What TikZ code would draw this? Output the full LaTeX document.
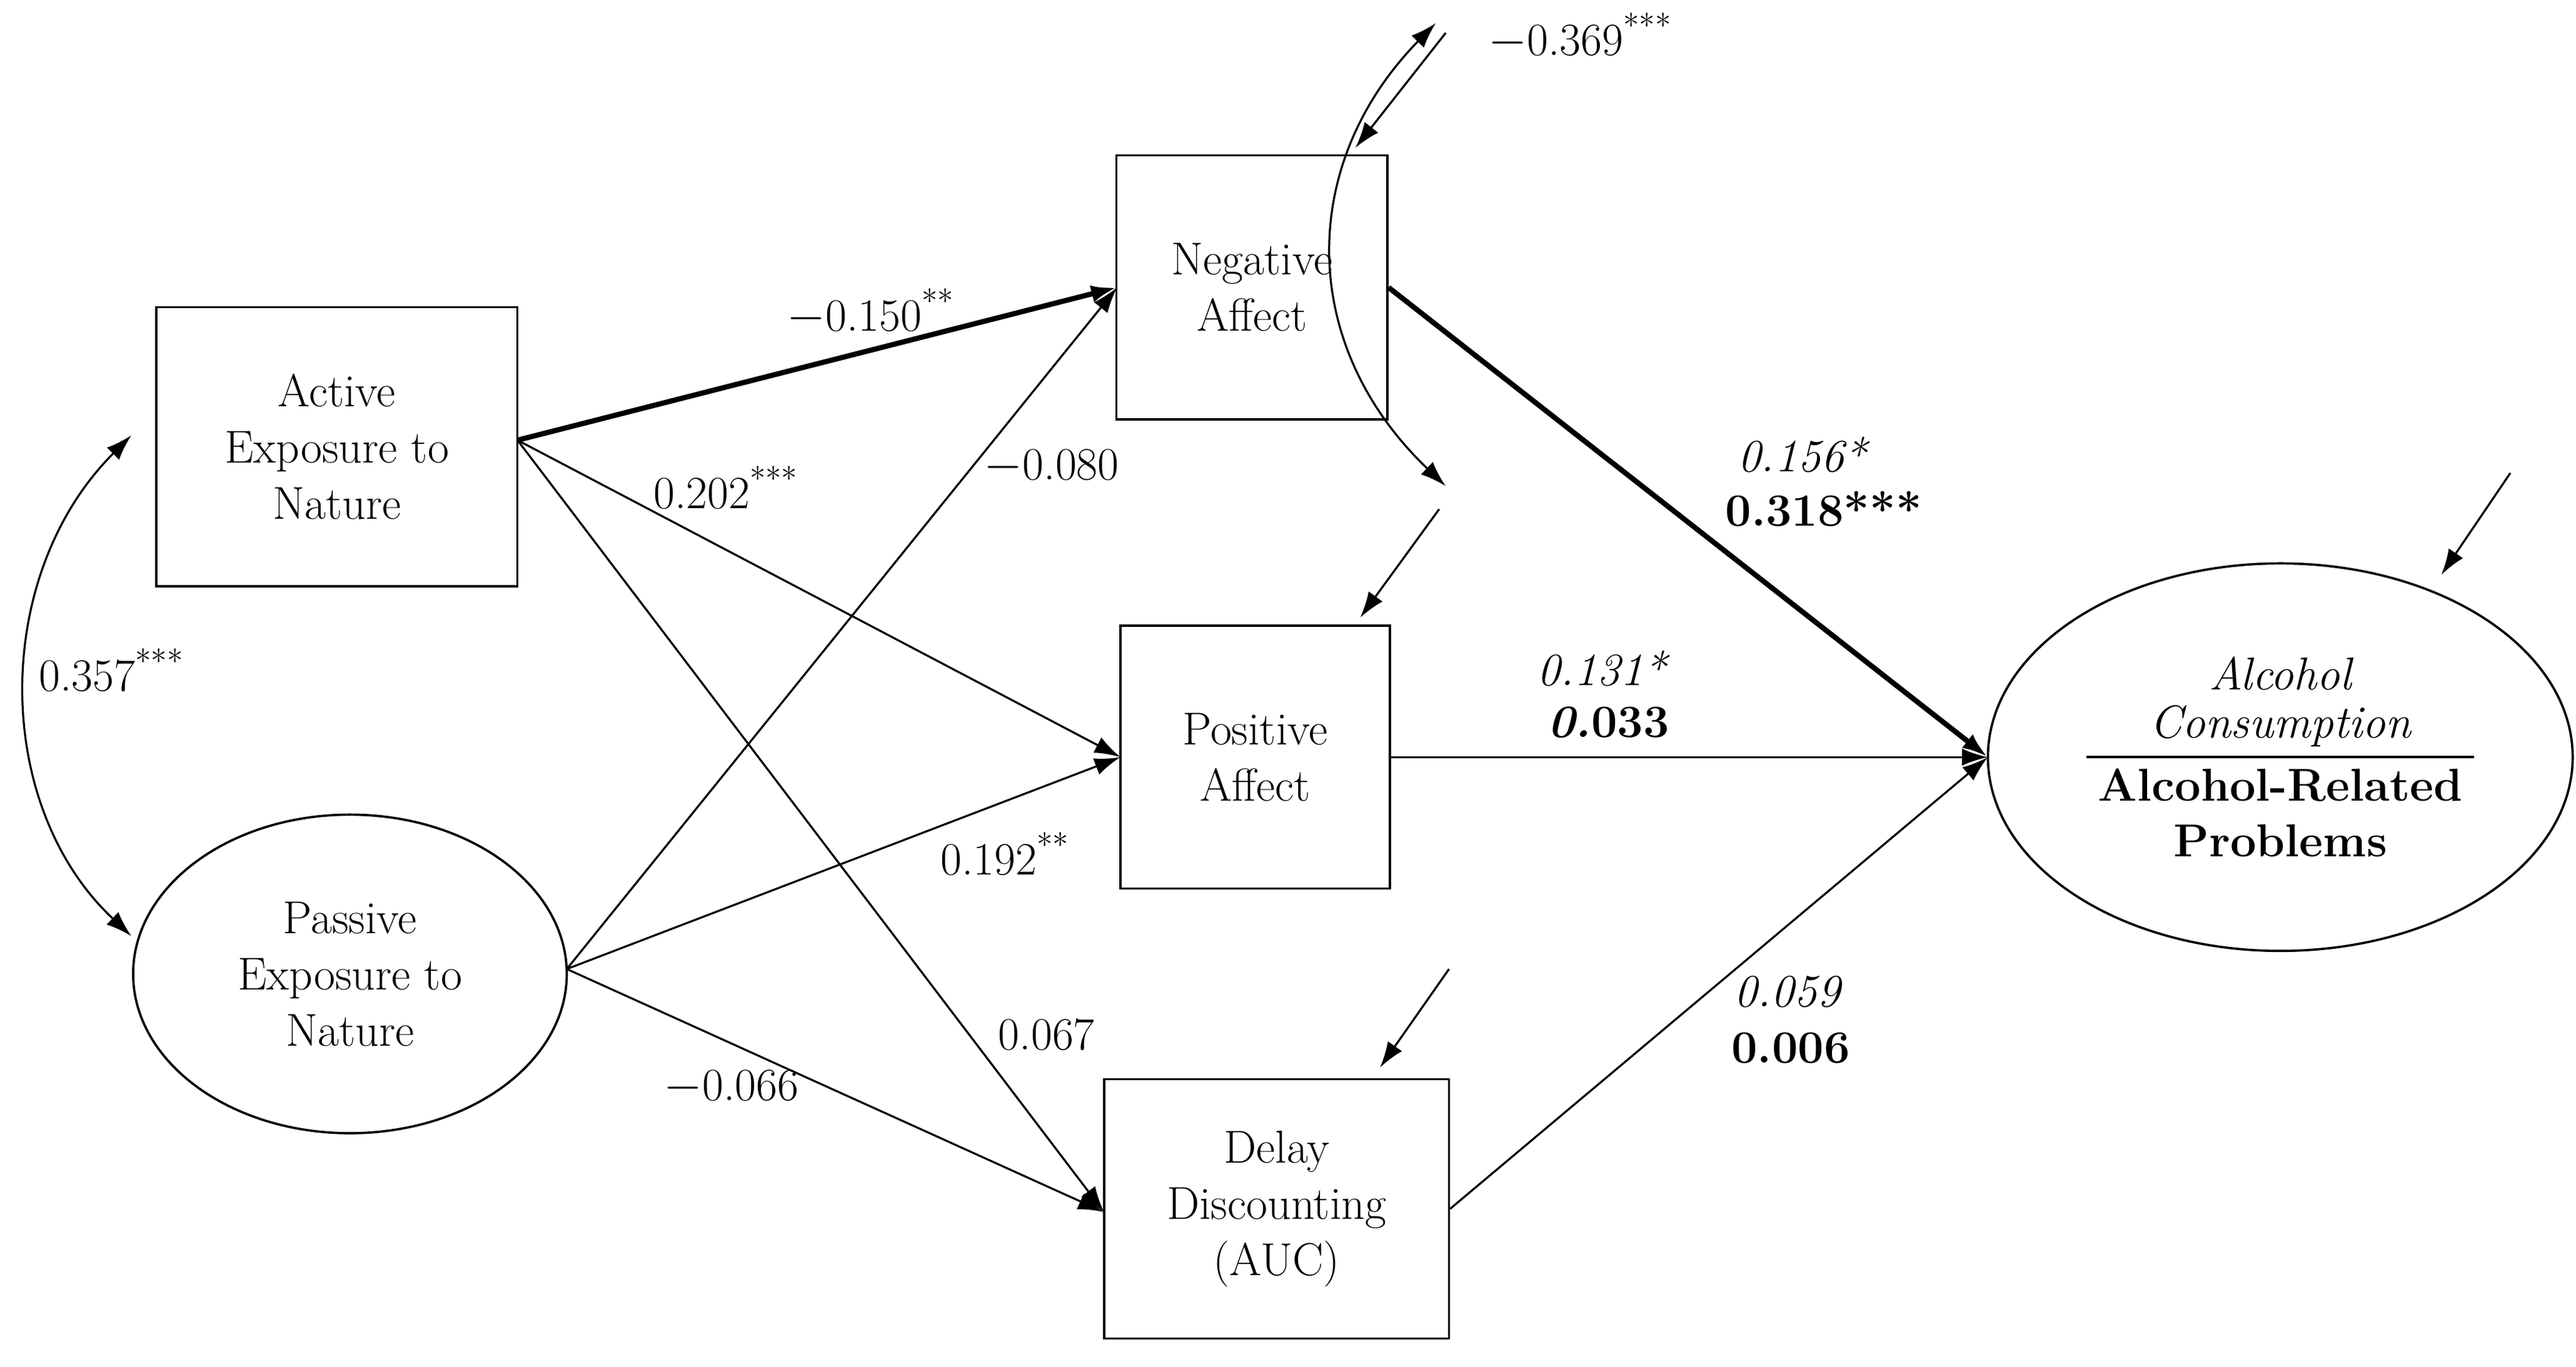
\documentclass[tikz,border=0pt]{standalone}
\usetikzlibrary{arrows.meta,shapes.geometric}
\begin{document}
\fontsize{16}{19.5}\selectfont
\begin{tikzpicture}[x={(0.02cm,0)},y={(0,-0.02cm)},
  box/.style={draw,line width=0.8pt,align=center,inner sep=0pt},
  ell/.style={draw,ellipse,line width=0.8pt,align=center,inner sep=0pt},
  arr/.style={-{Latex[length=9pt,width=6pt]},line width=0.7pt},
  thick arr/.style={arr,line width=1.8pt},
  lab/.style={inner sep=1pt}]
\useasboundingbox (0,0) rectangle (1568,832);
\node[box,minimum width=4.4cm,minimum height=3.4cm] (act) at (205,272) {Active\\Exposure to\\Nature};
\node[ell,minimum width=5.28cm,minimum height=3.88cm] (pas) at (213,593) {Passive\\Exposure to\\Nature};
\node[box,minimum width=3.3cm,minimum height=3.22cm] (neg) at (762,175) {Negative\\Affect};
\node[box,minimum width=3.28cm,minimum height=3.2cm] (pos) at (764,461) {Positive\\Affect};
\node[box,minimum width=4.2cm,minimum height=3.16cm] (del) at (777,736) {Delay\\Discounting\\(AUC)};
\node[ell,minimum width=7.12cm,minimum height=4.72cm] (alc) at (1388,461) {};
\node (alc1) at (1388,410) {\itshape Alcohol};
\node (alc2) at (1388,442) {\itshape Consumption};
\node (alc3) at (1388,478) {\bfseries Alcohol-Related};
\node (alc4) at (1388,512) {\bfseries Problems};
\coordinate (ll) at (1270,461); \coordinate (lr) at (1506,461);
\draw[line width=0.8pt] (ll) -- (lr);

\coordinate (aout) at (315,268);
\coordinate (pout) at (345,590);
\coordinate (negin) at (680,175);
\coordinate (posin) at (682,461);
\coordinate (delin) at (672,738);
\coordinate (alcin) at (1210,461);
\draw[thick arr] (aout) -- (negin);
\draw[arr] (aout) -- (posin);
\draw[arr] (aout) -- (delin);
\draw[arr] (pout) -- (negin);
\draw[arr] (pout) -- (posin);
\draw[arr] (pout) -- (delin);
\draw[thick arr] (neg.east) -- (alcin);
\draw[arr] (pos.east) -- (alcin);
\draw[arr] (del.east) -- (alcin);

\coordinate (c1) at (80,265); \coordinate (c2) at (80,570);
\draw[{Latex[length=9pt,width=6pt]}-{Latex[length=9pt,width=6pt]},line width=0.7pt] (c1) .. controls (-5,350) and (-5,490) .. (c2);
\coordinate (d1) at (874,14); \coordinate (d2) at (880,296);
\draw[{Latex[length=9pt,width=6pt]}-{Latex[length=9pt,width=6pt]},line width=0.7pt] (d1) .. controls (790,100) and (790,210) .. (d2);

\coordinate (e1s) at (880,20); \coordinate (e1e) at (825,90);
\coordinate (e2s) at (876,310); \coordinate (e2e) at (828,376);
\coordinate (e3s) at (882,590); \coordinate (e3e) at (840,650);
\coordinate (e4s) at (1528,288); \coordinate (e4e) at (1486,350);
\draw[arr] (e1s) -- (e1e);
\draw[arr] (e2s) -- (e2e);
\draw[arr] (e3s) -- (e3e);
\draw[arr] (e4s) -- (e4e);

\node[lab] (l1) at (530,190) {$-$0.150\textsuperscript{**}};
\node[lab] (l2) at (442,297) {0.202\textsuperscript{***}};
\node[lab] (l3) at (640,284) {$-$0.080};
\node[lab] (l4) at (68,408) {0.357\textsuperscript{***}};
\node[lab] (l5) at (612,520) {0.192\textsuperscript{**}};
\node[lab] (l6) at (637,630) {0.067};
\node[lab] (l7) at (445,662) {$-$0.066};
\node[lab] (l8) at (962,22) {$-$0.369\textsuperscript{***}};
\node[lab] (l9) at (1097,277) {\itshape 0.156*};
\node[lab] (l10) at (1110,310) {\bfseries 0.318***};
\node[lab] (l11) at (975,407) {\itshape 0.131*};
\node[lab] (l12) at (979,440) {\bfseries\itshape 0.\upshape033};
\node[lab] (l13) at (1088,604) {\itshape 0.059};
\node[lab] (l14) at (1090,638) {\bfseries 0.006};
\end{tikzpicture}
\end{document}
